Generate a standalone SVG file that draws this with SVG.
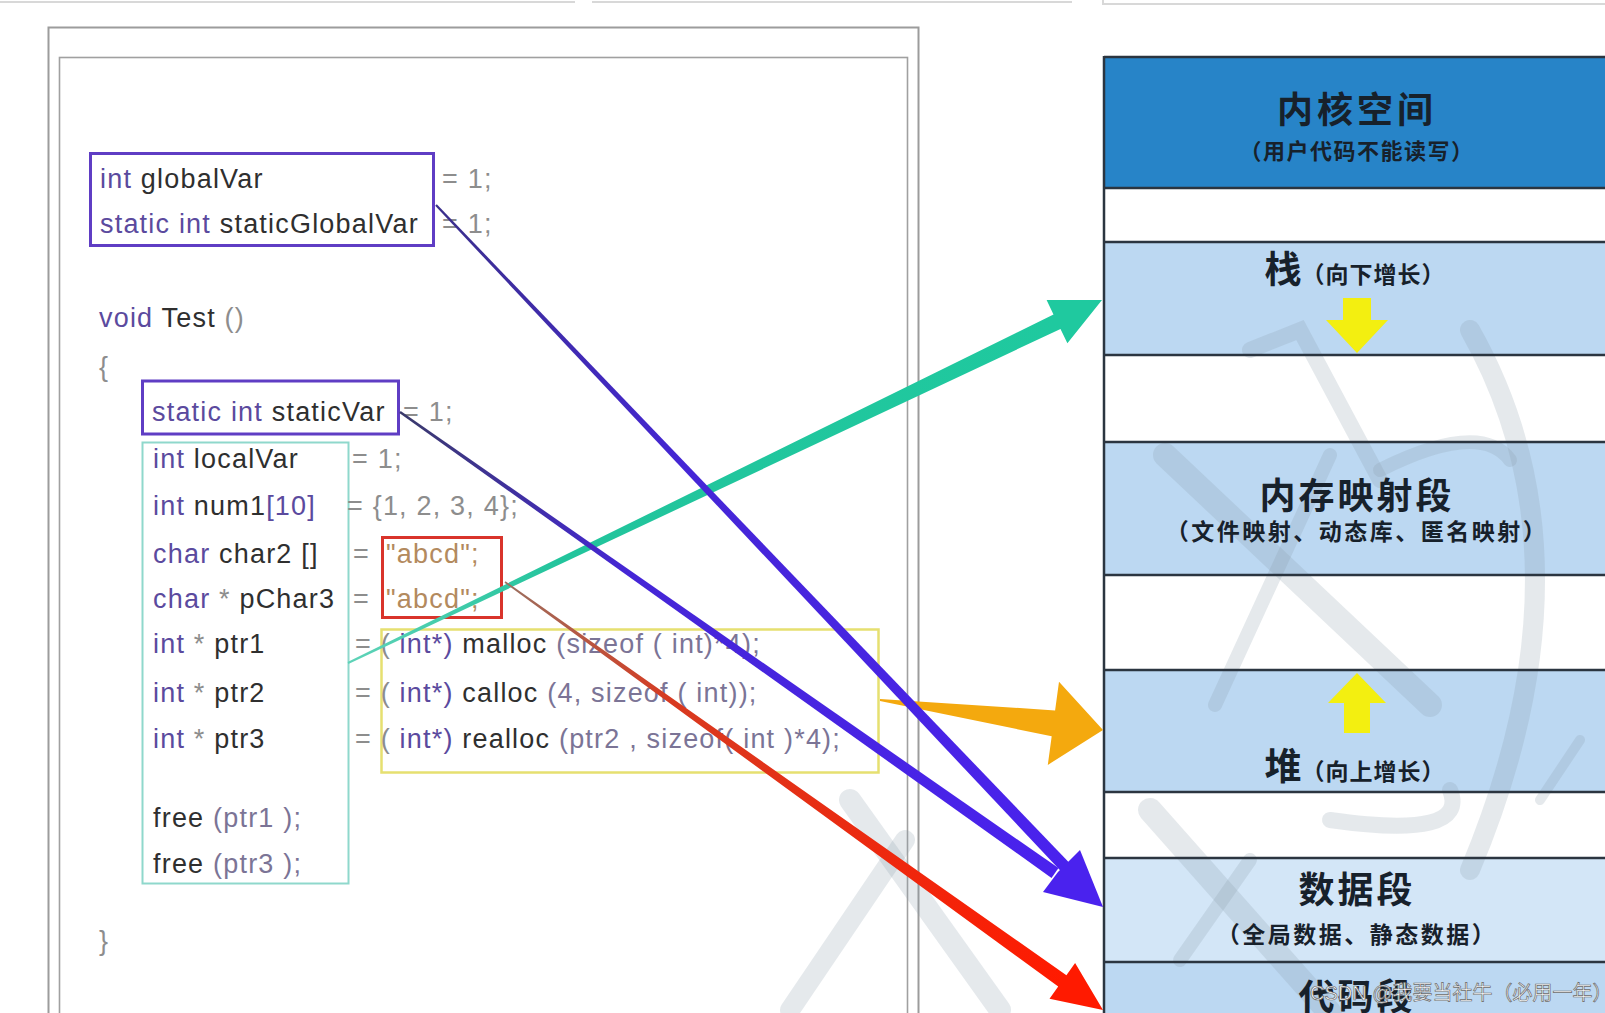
<svg xmlns="http://www.w3.org/2000/svg" width="1605" height="1013" viewBox="0 0 1605 1013">
<style>
.code{font-family:"Liberation Sans",Arial,sans-serif;font-size:27px;letter-spacing:1.2px}
.kw{fill:#5b4a9e}
.id{fill:#2f2f2f}
.gr{fill:#8d8d8d}
.st{fill:#b38a5e}
.sb{fill:#7b7496}
.lb{fill:#bcd8f2}
.wh{fill:#ffffff}
.sep{stroke:#2b3540;stroke-width:2.5}
.cj{font-family:"Noto Sans CJK SC","Noto Sans",sans-serif;font-weight:bold;fill:#17212b;text-anchor:middle}
.wm{fill:none;stroke:#8a9aaa;stroke-opacity:0.22;stroke-linecap:round}
</style>
<defs>
<linearGradient id="gPurpleA" gradientUnits="userSpaceOnUse" x1="436" y1="205" x2="1068" y2="870">
<stop offset="0" stop-color="#3a2f8a"/><stop offset="0.4" stop-color="#4526d6"/><stop offset="1" stop-color="#4a22ee"/>
</linearGradient>
<linearGradient id="gPurpleB" gradientUnits="userSpaceOnUse" x1="400" y1="412" x2="1055" y2="873">
<stop offset="0" stop-color="#3a3a6a"/><stop offset="0.35" stop-color="#4526d6"/><stop offset="1" stop-color="#4a22ee"/>
</linearGradient>
<linearGradient id="gRed" gradientUnits="userSpaceOnUse" x1="505" y1="582" x2="1062" y2="981">
<stop offset="0" stop-color="#9a7060"/><stop offset="0.3" stop-color="#d83a20"/><stop offset="1" stop-color="#ff1a00"/>
</linearGradient>
<linearGradient id="gGreen" gradientUnits="userSpaceOnUse" x1="348" y1="663" x2="1057" y2="322">
<stop offset="0" stop-color="#5fd3b8"/><stop offset="0.3" stop-color="#22c49c"/><stop offset="1" stop-color="#1fc99f"/>
</linearGradient>
</defs>

<rect width="1605" height="1013" fill="#ffffff"/>

<g id="top-edges" stroke="#d8d8d8" stroke-width="2" fill="none">
<line x1="0" y1="2" x2="575" y2="2"/>
<line x1="592" y1="2" x2="1072" y2="2"/>
<path d="M1103 -2 V4 H1605"/>
</g>

<g id="code-frame" fill="none">
<rect x="48.5" y="27.5" width="870" height="1000" stroke="#9c9c9c" stroke-width="2"/>
<rect x="59.5" y="57.5" width="848" height="980" stroke="#a0a0a0" stroke-width="1.6"/>
</g>

<g id="wm-left" class="wm">
<path d="M790 1010 L905 840" stroke-width="20"/>
<path d="M850 800 L1000 1010" stroke-width="22"/>
</g>

<g id="node-globals"><rect x="90.5" y="153.5" width="343" height="92" fill="none" stroke="#5f3dc4" stroke-width="3"/></g>
<g id="node-staticVar"><rect x="142.5" y="381" width="256" height="53" fill="none" stroke="#5f3dc4" stroke-width="3"/></g>
<g id="node-locals"><rect x="142.5" y="442.5" width="206" height="441" fill="none" stroke="#8fd8cc" stroke-width="2"/></g>
<g id="node-strings"><rect x="382.5" y="537.5" width="119" height="80" fill="none" stroke="#d9342b" stroke-width="3"/></g>
<g id="node-heapcalls"><rect x="381.5" y="629.5" width="497" height="143" fill="none" stroke="#e6e070" stroke-width="2.5"/></g>

<g id="code-text" class="code">
<text x="100" y="188"><tspan class="kw">int</tspan> <tspan class="id">globalVar</tspan></text>
<text x="442" y="188" class="gr">= 1;</text>
<text x="100" y="233"><tspan class="kw">static</tspan> <tspan class="kw">int</tspan> <tspan class="id">staticGlobalVar</tspan></text>
<text x="442" y="233" class="gr">= 1;</text>
<text x="99" y="327"><tspan class="kw">void</tspan> <tspan class="id">Test</tspan> <tspan class="gr">()</tspan></text>
<text x="99" y="376" class="gr">{</text>
<text x="152" y="421"><tspan class="kw">static</tspan> <tspan class="kw">int</tspan> <tspan class="id">staticVar</tspan></text>
<text x="403" y="421" class="gr">= 1;</text>
<text x="153" y="468"><tspan class="kw">int</tspan> <tspan class="id">localVar</tspan></text>
<text x="352" y="468" class="gr">= 1;</text>
<text x="153" y="515"><tspan class="kw">int</tspan> <tspan class="id">num1</tspan><tspan class="kw">[10]</tspan></text>
<text x="347" y="515" class="gr">= {1, 2, 3, 4};</text>
<text x="153" y="563"><tspan class="kw">char</tspan> <tspan class="id">char2 []</tspan></text>
<text x="353" y="563" class="gr">=</text>
<text x="386" y="563" class="st">"abcd";</text>
<text x="153" y="608"><tspan class="kw">char</tspan> <tspan class="gr">*</tspan> <tspan class="id">pChar3</tspan></text>
<text x="353" y="608" class="gr">=</text>
<text x="386" y="608" class="st">"abcd";</text>
<text x="153" y="653"><tspan class="kw">int</tspan> <tspan class="gr">*</tspan> <tspan class="id">ptr1</tspan></text>
<text x="355" y="653"><tspan class="gr">=</tspan> <tspan class="gr">(</tspan> <tspan class="kw">int*)</tspan> <tspan class="id">malloc</tspan> <tspan class="sb">(sizeof ( int)*4);</tspan></text>
<text x="153" y="702"><tspan class="kw">int</tspan> <tspan class="gr">*</tspan> <tspan class="id">ptr2</tspan></text>
<text x="355" y="702"><tspan class="gr">=</tspan> <tspan class="gr">(</tspan> <tspan class="kw">int*)</tspan> <tspan class="id">calloc</tspan> <tspan class="sb">(4, sizeof ( int));</tspan></text>
<text x="153" y="748"><tspan class="kw">int</tspan> <tspan class="gr">*</tspan> <tspan class="id">ptr3</tspan></text>
<text x="355" y="748"><tspan class="gr">=</tspan> <tspan class="gr">(</tspan> <tspan class="kw">int*)</tspan> <tspan class="id">realloc</tspan> <tspan class="sb">(ptr2 , sizeof( int )*4);</tspan></text>
<text x="153" y="827"><tspan class="id">free</tspan> <tspan class="sb">(ptr1 );</tspan></text>
<text x="153" y="873"><tspan class="id">free</tspan> <tspan class="sb">(ptr3 );</tspan></text>
<text x="99" y="950" class="gr">}</text>
</g>

<g id="panel-bands">
<rect id="band-kernel" x="1104" y="57" width="501" height="131" fill="#2784c8"/>
<rect x="1104" y="188" width="501" height="54" class="wh"/>
<rect x="1104" y="242" width="501" height="113" class="lb"/>
<rect x="1104" y="355" width="501" height="87" class="wh"/>
<rect x="1104" y="442" width="501" height="133" class="lb"/>
<rect x="1104" y="575" width="501" height="95" class="wh"/>
<rect x="1104" y="670" width="501" height="122" class="lb"/>
<rect x="1104" y="792" width="501" height="66" class="wh"/>
<rect x="1104" y="858" width="501" height="104" fill="#d3e6f7"/>
<rect x="1104" y="962" width="501" height="51" class="lb"/>
</g>

<g id="wm-right" class="wm">
<path d="M1165 455 L1430 705" stroke-width="24"/>
<path d="M1215 705 L1330 455" stroke-width="14"/>
<path d="M1250 350 L1300 330 L1380 480" stroke-width="16"/>
<path d="M1470 330 Q1600 560 1470 870" stroke-width="20"/>
<path d="M1380 470 Q1480 420 1510 460" stroke-width="14"/>
<path d="M1150 810 L1330 1013" stroke-width="24"/>
<path d="M1330 820 Q1470 840 1450 790" stroke-width="16"/>
<path d="M1180 960 L1250 860" stroke-width="14"/>
<path d="M1540 800 L1580 740" stroke-width="10"/>
</g>

<g id="panel-lines" fill="none">
<line x1="1104" y1="57" x2="1605" y2="57" class="sep"/>
<line x1="1104" y1="188" x2="1605" y2="188" class="sep"/>
<line x1="1104" y1="242" x2="1605" y2="242" class="sep"/>
<line x1="1104" y1="355" x2="1605" y2="355" class="sep"/>
<line x1="1104" y1="442" x2="1605" y2="442" class="sep"/>
<line x1="1104" y1="575" x2="1605" y2="575" class="sep"/>
<line x1="1104" y1="670" x2="1605" y2="670" class="sep"/>
<line x1="1104" y1="792" x2="1605" y2="792" class="sep"/>
<line x1="1104" y1="858" x2="1605" y2="858" class="sep"/>
<line x1="1104" y1="962" x2="1605" y2="962" class="sep"/>
<line x1="1104" y1="56" x2="1104" y2="1013" class="sep"/>
</g>

<g id="seg-kernel">
<text x="1357" y="123" class="cj" font-size="36" letter-spacing="4">内核空间</text>
<text x="1357" y="159" class="cj" font-size="22" letter-spacing="1.5">（用户代码不能读写）</text>
</g>
<g id="seg-stack">
<text x="1355" y="283" class="cj"><tspan font-size="37">栈</tspan><tspan font-size="23" letter-spacing="1">（向下增长）</tspan></text>
<polygon points="1343,298 1371,298 1371,320 1388,320 1357,353 1326,320 1343,320" fill="#f3ef10"/>
</g>
<g id="seg-mmap">
<text x="1357" y="509" class="cj" font-size="36" letter-spacing="3">内存映射段</text>
<text x="1357" y="540" class="cj" font-size="23" letter-spacing="2.5">（文件映射、动态库、匿名映射）</text>
</g>
<g id="seg-heap">
<polygon points="1357,673 1386,703 1370,703 1370,733 1344,733 1344,703 1328,703" fill="#f3ef10"/>
<text x="1355" y="780" class="cj"><tspan font-size="37">堆</tspan><tspan font-size="23" letter-spacing="1">（向上增长）</tspan></text>
</g>
<g id="seg-data">
<text x="1357" y="903" class="cj" font-size="36" letter-spacing="3">数据段</text>
<text x="1357" y="943" class="cj" font-size="23" letter-spacing="2.5">（全局数据、静态数据）</text>
</g>
<g id="seg-code">
<text x="1357" y="1010" class="cj" font-size="36" letter-spacing="3">代码段</text>
</g>

<g id="connectors">
<polygon id="arrow-green" fill="url(#gGreen)" points="348.4,663.9 1060.5,328.9 1067.4,343.3 1102,300 1046.6,300.1 1053.5,314.5 347.6,662.1"/>
<polygon id="arrow-orange" fill="#f4a90e" points="880,699 1055.1,710.4 1059,681.7 1103,730 1047.8,764.9 1051.7,736.2 880,701"/>
<polygon id="arrow-global-shaft" fill="url(#gPurpleA)" points="436.8,204.2 1072.4,865.9 1063.6,874.1 435.2,205.8"/>
<polygon id="arrow-static-shaft" fill="url(#gPurpleB)" points="400.7,411 1058.5,868.1 1051.5,877.9 399.3,413"/>
<polygon id="arrow-data-head" fill="#4a22ee" points="1080,850 1103,907 1043,892 1058,872"/>
<polygon id="arrow-red" fill="url(#gRed)" points="505.5,581.3 1066.4,975.2 1075.1,963 1103,1010 1049.5,998.8 1058.2,986.6 504.5,582.7"/>
</g>

<text x="1310" y="1000" font-family="Liberation Sans,'Noto Sans CJK SC',sans-serif" font-size="20" fill="#ffffff" stroke="#6a6a6a" stroke-width="0.7">CSDN @我要当社牛（必用一年）</text>
</svg>
